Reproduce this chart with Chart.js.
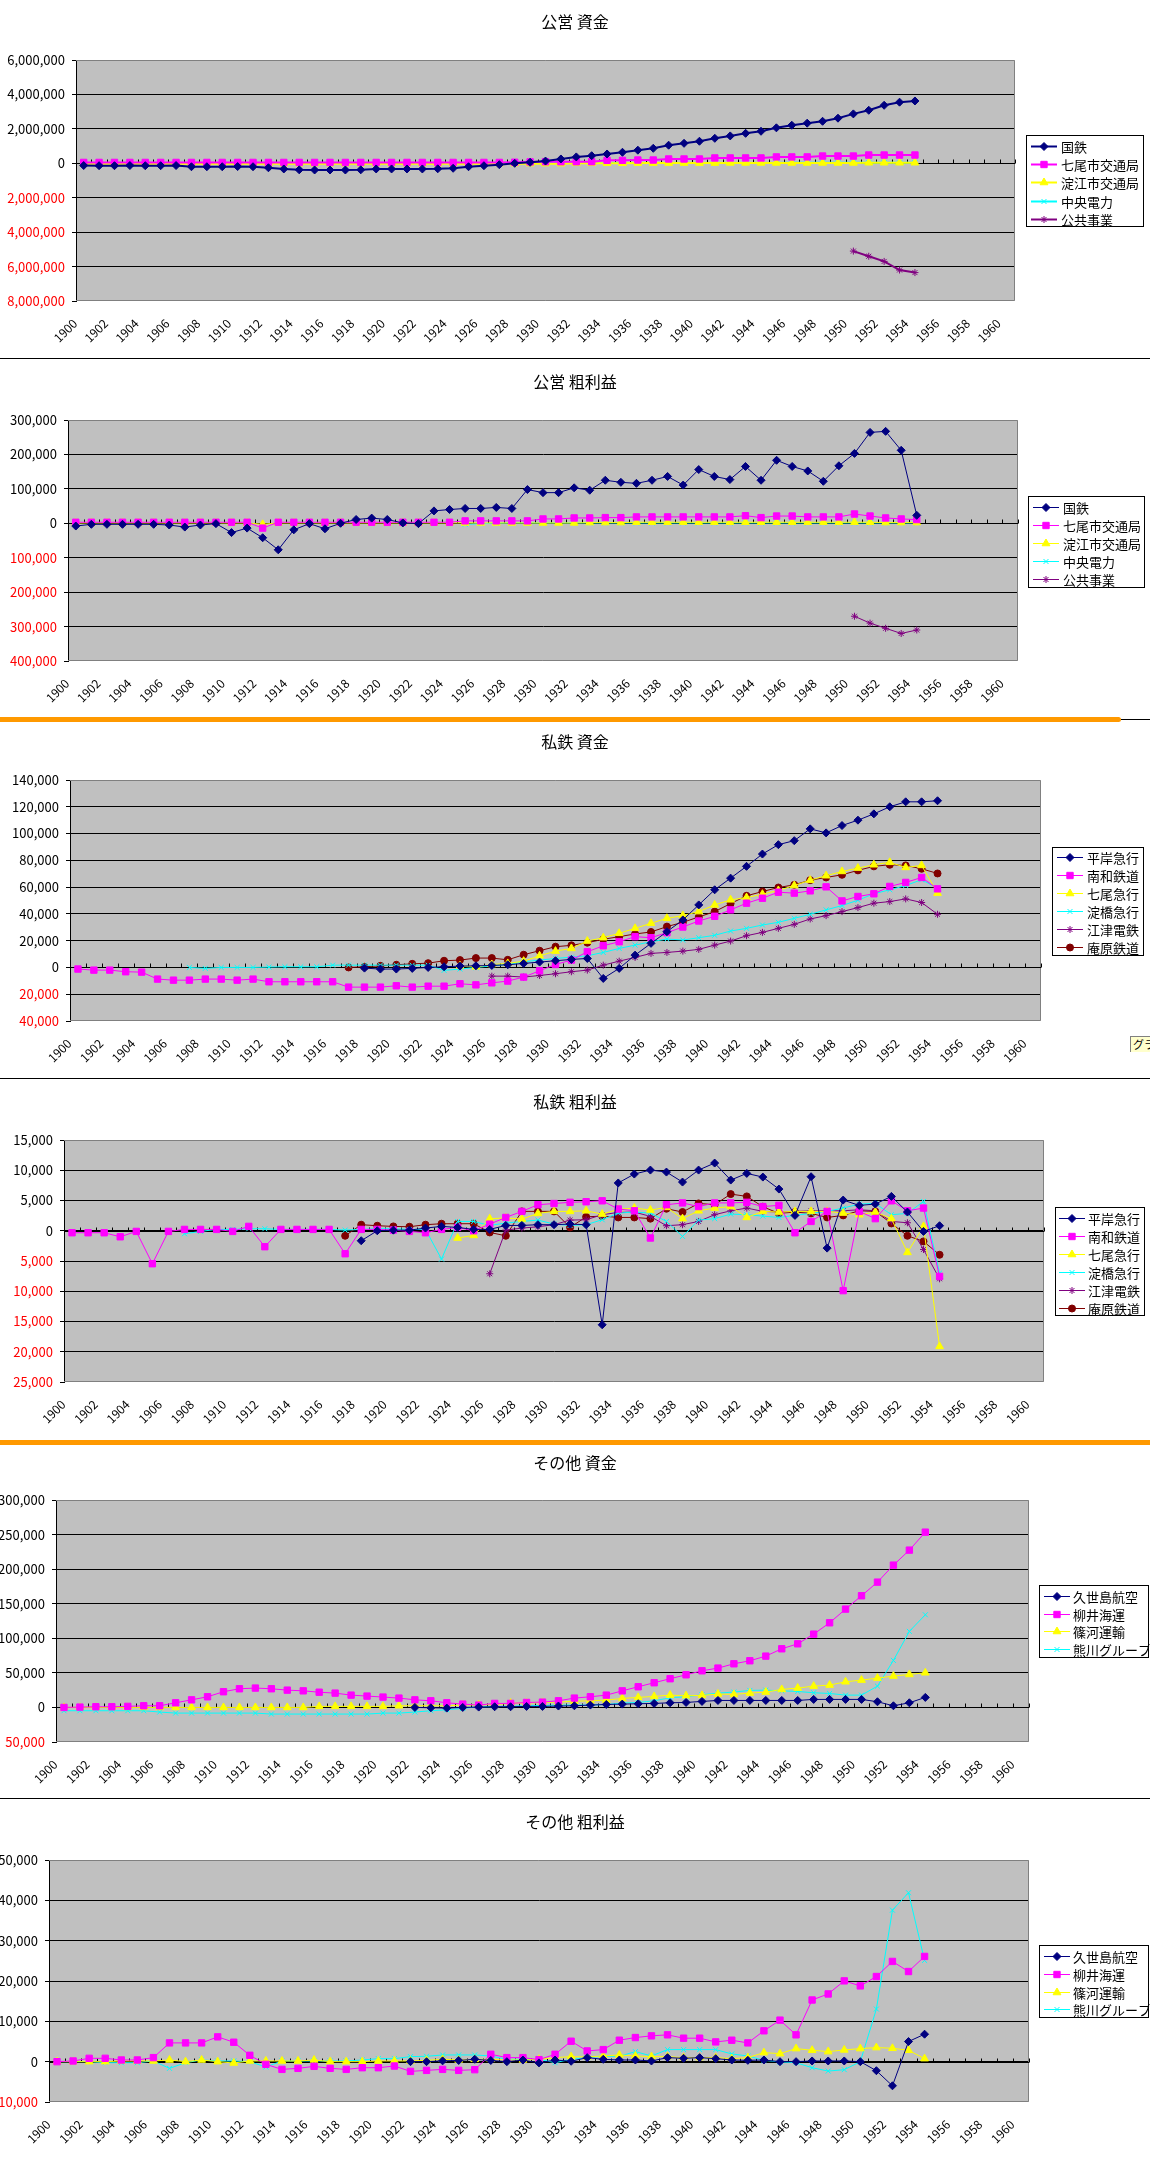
<!DOCTYPE html>
<html lang="ja">
<head>
<meta charset="utf-8">
<title>公営・私鉄・その他 資金と粗利益</title>
<script src="https://cdn.jsdelivr.net/npm/chart.js@4.4.1/dist/chart.umd.min.js"></script>
<style>
  html, body { margin: 0; padding: 0; background: #fff; }
  #page { position: relative; width: 1150px; height: 2160px; overflow: hidden; }
  #page canvas { position: absolute; left: 0; }
  .rule { position: absolute; left: 0; }
  .tag {
    position: absolute; left: 1130px; top: 1036px; width: 22px; height: 15px;
    background: #ffffcc; border-left: 1px solid #808080; border-top: 1px solid #808080;
    font: 11px "Noto Sans CJK JP", sans-serif; line-height: 15px; padding-left: 2px;
    white-space: nowrap; overflow: hidden;
  }
</style>
</head>
<body>
<div id="page">
  <canvas id="c1"></canvas>
  <canvas id="c2"></canvas>
  <canvas id="c3"></canvas>
  <canvas id="c4"></canvas>
  <canvas id="c5"></canvas>
  <canvas id="c6"></canvas>
  <div class="rule" style="top:358px;width:1150px;height:1px;background:#000"></div>
  <div class="rule" style="top:717px;width:1121px;height:5px;background:#ff9900;border-radius:0 3px 3px 0"></div>
  <div class="rule" style="left:1121px;top:719px;width:29px;height:1px;background:#000"></div>
  <div class="rule" style="top:1078px;width:1150px;height:1px;background:#000"></div>
  <div class="rule" style="top:1440px;width:1150px;height:5px;background:#ff9900"></div>
  <div class="rule" style="top:1798px;width:1150px;height:1px;background:#000"></div>
  <div class="tag">グラフ</div>
</div>
<script>
const FONT = '"Noto Sans CJK JP", "Noto Sans", sans-serif';

// 年 (カテゴリ)
const years = Array.from({ length: 61 }, (_, i) => 1900 + i);

// ---- 公営 資金 ----
const kokutetsuShikinStart = 1900;
const kokutetsuShikin = [-130000, -140000, -140000, -130000, -140000, -140000, -130000, -200000, -200000, -200000,
  -190000, -200000, -260000, -330000, -380000, -390000, -390000, -390000, -380000, -330000,
  -330000, -330000, -330000, -320000, -290000, -200000, -140000, -80000, 0, 60000, 130000, 250000,
  370000, 440000, 540000, 640000, 760000, 870000, 1050000, 1160000, 1280000, 1450000, 1590000, 1740000,
  1860000, 2060000, 2210000, 2330000, 2440000, 2620000, 2870000, 3080000, 3370000, 3550000, 3620000];
const nanaoKotsuShikinStart = 1900;
const nanaoKotsuShikin = [50000, 50000, 50000, 50000, 50000, 50000, 50000, 50000, 50000, 50000,
  50000, 50000, 50000, 50000, 50000, 50000, 50000, 50000, 50000, 50000,
  50000, 50000, 50000, 50000, 50000, 50000, 50000, 50000, 60000, 80000, 90000, 90000,
  90000, 90000, 170000, 170000, 190000, 190000, 250000, 250000, 250000, 310000, 310000, 310000,
  310000, 370000, 370000, 370000, 420000, 420000, 420000, 480000, 480000, 480000, 480000];
const yodoeKotsuShikinStart = 1900;
const yodoeKotsuShikin = [-20000, -20000, -20000, -20000, -20000, -20000, -20000, -20000, -20000, -20000,
  -20000, -20000, -20000, -20000, -20000, -20000, -20000, -20000, -20000, -20000,
  -20000, -20000, -20000, -20000, -20000, -20000, -20000, -20000, -20000, -20000, -20000, -20000,
  0, 0, 0, 0, 10000, 10000, 10000, 10000, 10000, 10000, 20000, 20000,
  20000, 20000, 20000, 20000, 20000, 20000, 20000, 30000, 30000, 30000, 30000];
const chuoDenryokuShikinStart = 1925;
const chuoDenryokuShikin = [0, 10000, 10000, 10000, 20000, 20000, 20000,
  20000, 20000, 20000, 20000, 20000, 20000, 20000, 20000, 20000, 20000, 20000, 20000,
  20000, 20000, 30000, 30000, 30000, 30000, 30000, 30000, 30000, 30000, 30000];
const kokyoJigyoShikinStart = 1950;
const kokyoJigyoShikin = [-5100000, -5400000, -5700000, -6200000, -6350000];

// ---- 公営 粗利益 ----
const kokutetsuRiekiStart = 1900;
const kokutetsuRieki = [-8000, -3000, -3000, -3000, -3000, -3000, -5000, -11000, -5000, -1000,
  -27000, -14000, -42000, -77000, -19000, -1000, -16000, 0, 11000, 15000,
  11000, 1000, -1000, 36000, 40000, 43000, 43000, 46000, 43000, 98000, 89000, 89000,
  103000, 96000, 125000, 119000, 116000, 125000, 136000, 111000, 156000, 136000, 127000, 165000,
  125000, 183000, 165000, 152000, 122000, 167000, 203000, 264000, 267000, 212000, 23000];
const nanaoKotsuRiekiStart = 1900;
const nanaoKotsuRieki = [3000, 3000, 3000, 3000, 3000, 3000, 3000, 3000, 3000, 3000,
  3000, 3000, -14000, 3000, 3000, 3000, 3000, 3000, 3000, 3000,
  3000, 3000, 3000, 3000, 3000, 7000, 7000, 7000, 7000, 7000, 12600, 12600,
  15500, 15500, 16500, 16500, 18500, 18500, 18500, 18500, 18500, 18500, 18500, 22000,
  16500, 21000, 21000, 18500, 18500, 18500, 27000, 21000, 15500, 12600, 10700];
const yodoeKotsuRiekiStart = 1900;
const yodoeKotsuRieki = [1000, 1000, 1000, 1000, 1000, 1000, 1000, 1000, 1000, 1000,
  1000, 1000, -3000, 1000, 1000, 1000, 1000, 1000, 1000, 1000,
  1000, 1000, 1000, 1000, 1000, 1000, 1000, 1000, 1000, 1000, 1000, 1000, 1000,
  2000, 2000, 2000, 3000, 3000, 3000, 3000, 3000, 3000, 3000, 3000,
  3000, 3000, 3000, 3000, 3000, 3000, 3000, 3000, 2000, 2000, 2000];
const chuoDenryokuRiekiStart = 1925;
const chuoDenryokuRieki = [-3000, -1000, 0, 1000, 1000, 1000, 1000,
  1000, 1000, 1000, 1000, 1000, 1000, 1000, 1000, 1000, 1000, 1000, 1000,
  1000, 1000, 1000, 1000, 1000, 1000, 1000, 1000, 1000, 1000, 1000];
const kokyoJigyoRiekiStart = 1950;
const kokyoJigyoRieki = [-270000, -290000, -305000, -320000, -310000];

// ---- 私鉄 資金 ----
const hiragishiShikinStart = 1918;
const hiragishiShikin = [-500, -1200, -1200, -700, 0, 500, 1000, 1200, 1500, 2000, 3000, 4000, 5000, 6000,
  6700, -8200, -700, 9200, 18000, 26700, 35500, 46700, 58000, 66700, 75500, 84700,
  91700, 94700, 103500, 100500, 106000, 110000, 114700, 120000, 123700, 123700, 124500];
const nanwaShikinStart = 1900;
const nanwaShikin = [-1200, -2000, -2000, -3200, -3500, -8700, -9500, -9500, -8700, -8700,
  -9500, -8700, -10700, -10700, -10700, -10700, -10700, -14700, -14700, -14700,
  -13700, -14700, -14000, -14000, -12200, -13000, -11500, -10200, -7200, -2500, 2200, 5500,
  11700, 16200, 19200, 23000, 22200, 26000, 30200, 34700, 38200, 43000, 48000, 51700,
  56200, 55500, 57200, 60200, 49700, 53000, 55000, 60500, 63500, 67200, 58700];
const nanaoKyukoShikinStart = 1924;
const nanaoKyukoShikin = [1200, 500, 2200, 3000, 4700, 8700, 12200, 14200,
  19700, 22200, 25500, 29200, 33000, 36700, 38700, 41700, 46700, 50500, 52200, 54700,
  57500, 61200, 65200, 68500, 71700, 74200, 76700, 78500, 74700, 76200, 55500];
const yodobashiShikinStart = 1907;
const yodobashiShikin = [0, -700, 0, 0, 0, 300, 500, 500, 500, 1700, 1700, 1700, 1700,
  1700, 1700, 1700, -2200, -1200, 0, 1200, 2200, 4200, 5500, 6700, 7700,
  8700, 11200, 14200, 16700, 19200, 21200, 20500, 22200, 24000, 27200, 29200, 31700,
  33700, 36700, 39700, 43000, 46200, 50200, 55000, 58000, 61200, 65500, 59200];
const gotsuShikinStart = 1926;
const gotsuShikin = [-6500, -6500, -7200, -6000, -4700, -3200,
  -2000, 1700, 4700, 7500, 10500, 11200, 12200, 13500, 16700, 19700, 23700, 26200,
  29200, 32200, 36200, 38700, 41700, 44700, 48000, 49200, 51200, 48500, 39700];
const ioharaShikinStart = 1917;
const ioharaShikin = [0, 500, 1200, 2000, 2700, 3200, 5000, 5500, 7000, 7000, 5700, 9500, 12500, 15500, 16500,
  18500, 21000, 23000, 25000, 26500, 30500, 33700, 37700, 41700, 47700, 53500, 56700,
  59700, 61700, 65200, 67200, 69200, 72500, 75500, 76700, 76200, 73700, 70200];

// ---- 私鉄 粗利益 ----
const hiragishiRiekiStart = 1918;
const hiragishiRieki = [-1650, 0, 100, 100, 440, 720, 550, 220, 220, 880, 880, 1000, 1000, 1100,
  1000, -15540, 7900, 9370, 10030, 9700, 8050, 10030, 11190, 8380, 9480, 8870,
  6890, 2540, 8930, -2870, 5070, 4190, 4410, 5680, 3090, -110, 830];
const nanwaRiekiStart = 1900;
const nanwaRieki = [-330, -330, -330, -1000, -110, -5450, -110, 220, 220, 220,
  -110, 720, -2640, 220, 220, 220, 220, -3800, 220, 220,
  110, -110, -330, 220, 550, 0, 1100, 2200, 3200, 4300, 4500, 4700,
  4800, 4950, 3600, 3300, -1200, 4300, 4600, 4000, 4600, 4600, 4700, 4000,
  4200, -330, 1540, 3200, -9900, 3200, 2000, 4950, 3300, 3750, -7550];
const nanaoKyukoRiekiStart = 1924;
const nanaoKyukoRieki = [-1200, -770, 2000, 2100, 1930, 2870, 3200, 3200,
  3300, 2750, 3530, 3750, 3420, 3860, 2000, 3300, 3750, 4000, 2200, 3200,
  3090, 3200, 3200, 3200, 2920, 2650, 3090, 2000, -3580, 720, -19120];
const yodobashiRiekiStart = 1907;
const yodobashiRieki = [-500, -110, 220, 220, 330, 330, 220, 220, 220, 220, 110, 220, 330,
  330, 220, 220, -4680, 1540, 1540, 880, 1270, 1540, 1760, 1100, 880,
  1000, 1820, 2920, 3090, 2920, 1540, -940, 1760, 2000, 2750, 2650, 2420,
  2200, 2540, 2870, 3200, 3750, 4410, 4520, 2650, 2870, 4850, -7000];
const gotsuRiekiStart = 1926;
const gotsuRieki = [-7110, 110, 440, 660, 1000, 1760,
  1820, 2650, 3030, 3090, 2370, 830, 1000, 1540, 2650, 3300, 3750, 3200,
  3090, 3200, 3300, 3300, 3300, 3470, 3300, 1540, 1320, -3090, -7940];
const ioharaRiekiStart = 1917;
const ioharaRieki = [-830, 1000, 830, 720, 660, 1000, 1160, 1160, 1160, -280, -830, 3200, 3200, 3200, 550,
  2300, 2420, 2200, 2200, 2000, 3640, 3090, 4520, 4300, 6060, 5680, 3970,
  2870, 3090, 2870, 2200, 2540, 3300, 3200, 1210, -830, -1760, -3970];

// ---- その他 資金 ----
const kuseshimaShikinStart = 1922;
const kuseshimaShikin = [0, -500, -1000, 0, 500, 1000, 1000, 1500, 1500, 2000, 2400,
  3400, 4300, 4800, 5300, 5800, 6700, 7200, 8700, 10100, 10100, 10100,
  10100, 10100, 10100, 11600, 11600, 11600, 11600, 8200, 2400, 6700, 14500];
const yanaiShikinStart = 1900;
const yanaiShikin = [0, 500, 1000, 1000, 1500, 2400, 2400, 6700, 11000, 15400,
  22700, 27000, 28000, 27000, 25000, 24000, 22000, 20700, 17800, 16400,
  15000, 13500, 11000, 9600, 6700, 4800, 3400, 5800, 5800, 7200, 7700, 9600, 13500,
  15400, 17800, 24000, 29900, 35700, 41500, 47200, 53000, 56900, 63100, 67500,
  74200, 84800, 92000, 106000, 122400, 142200, 161500, 181200, 205800, 227500, 253500];
const shinokawaShikinStart = 1900;
const shinokawaShikin = [0, 0, 0, 0, 0, 0, 0, 0, 0, 0,
  0, 0, 0, 0, 0, 0, 1500, 1500, 1500, 1500,
  1500, 2400, 2400, 2400, 2400, 3400, 3900, 3900, 6300, 6300, 7200, 7700, 9000,
  9600, 10600, 13000, 14500, 15900, 17800, 16900, 17400, 19300, 18800, 20700,
  22200, 26000, 28000, 30800, 32300, 37100, 39500, 42400, 45300, 47700, 50100];
const kumakawaShikinStart = 1900;
const kumakawaShikin = [-4800, -4800, -4800, -4800, -4800, -4800, -6700, -8200, -8200, -8200,
  -8200, -8200, -8200, -9600, -9600, -9600, -9600, -9600, -9600, -9600,
  -8200, -8200, -6700, -4800, -3400, -1400, 1000, 1000, 1900, 2400, 2900, 3400, 3400,
  3400, 4300, 6300, 7200, 9600, 14000, 15400, 18300, 20700, 22200, 24600,
  25000, 24000, 23100, 21200, 20200, 17800, 17800, 30800, 68000, 110000, 134000];

// ---- その他 粗利益 ----
const kuseshimaRiekiStart = 1922;
const kuseshimaRieki = [0, 0, 200, 300, 600, 300, 0, 400, -300, 400, 100,
  1000, 580, 415, 415, 170, 1000, 830, 1000, 750, 415, 330,
  415, 0, 0, 170, 170, 170, 0, -2240, -5980, 4990, 6810];
const yanaiRiekiStart = 1900;
const yanaiRieki = [0, 170, 830, 830, 415, 415, 1000, 4650, 4650, 4650,
  6150, 4820, 1580, -660, -1910, -1660, -1160, -1660, -1910, -1500,
  -1500, -1080, -2410, -2160, -1910, -2160, -1990, 1830, 1000, 1000, 500, 1830, 5070,
  2660, 2990, 5320, 5980, 6400, 6650, 5820, 5820, 4900, 5320, 4650,
  7650, 10300, 6650, 15290, 16790, 20030, 18780, 21110, 24850, 22350, 26090];
const shinokawaRiekiStart = 1900;
const shinokawaRieki = [0, 0, 0, 0, 170, 170, 170, 415, 0, 415,
  0, -330, 170, 170, 170, 170, 415, 0, 0, 0,
  170, 170, 170, 330, 580, 415, 580, 580, 415, 415, 580, 1000, 1250,
  1160, 1410, 1660, 1410, 1250, 1250, 1000, 1000, 1000, 750, 1000,
  2240, 1990, 3240, 2830, 2490, 2910, 3240, 3490, 3320, 2830, 750];
const kumakawaRiekiStart = 1900;
const kumakawaRieki = [0, 0, 0, -250, -250, -250, 170, -1660, -250, 415,
  170, 170, 0, -1330, 170, 170, 170, 170, 170, 415,
  750, 750, 1250, 1330, 1660, 1660, 1660, 1410, 580, 580, 580, -250, 580,
  1000, 1330, 1330, 2490, 1410, 2990, 2990, 2990, 2990, 1910, 1410,
  330, -80, -250, -1500, -2330, -1990, 0, 13050, 37560, 41880, 25100];

// 系列の色とマーカー (Excel の既定順)
const markers = [
  { color: '#000080', style: 'rectRot', radius: 4 },
  { color: '#ff00ff', style: 'rect', radius: 4.5 },
  { color: '#ffff00', style: 'triangle', radius: 4.5 },
  { color: '#00ffff', style: 'crossRot', radius: 3.5 },
  { color: '#800080', style: 'star', radius: 3.5 },
  { color: '#800000', style: 'circle', radius: 3.5 }
];

function onYears(start, values) {
  return years.map(y => {
    const i = y - start;
    return i >= 0 && i < values.length ? values[i] : null;
  });
}

function makeDataset(label, slot, start, values, lineWidth) {
  const m = markers[slot];
  return {
    label: label,
    data: onYears(start, values),
    borderColor: m.color,
    backgroundColor: m.color,
    pointBackgroundColor: m.color,
    pointBorderColor: m.color,
    pointStyle: m.style,
    pointRadius: m.radius,
    pointBorderWidth: 1,
    borderWidth: lineWidth,
    tension: 0
  };
}

// 背景・枠・0軸・年ラベル・タイトル・凡例
const sheetLook = {
  id: 'sheetLook',
  beforeDraw(chart) {
    const { ctx, chartArea: a } = chart;
    ctx.save();
    ctx.fillStyle = '#c0c0c0';
    ctx.fillRect(a.left, a.top, a.right - a.left, a.bottom - a.top);
    ctx.restore();
  },
  beforeDatasetsDraw(chart) {
    const { ctx, chartArea: a } = chart;
    const x = chart.scales.x, y = chart.scales.y;
    ctx.save();
    ctx.lineWidth = 1;
    ctx.strokeStyle = '#808080';
    ctx.beginPath();
    ctx.moveTo(a.left, a.top + 0.5);
    ctx.lineTo(a.right - 0.5, a.top + 0.5);
    ctx.lineTo(a.right - 0.5, a.bottom - 0.5);
    ctx.lineTo(a.left, a.bottom - 0.5);
    ctx.stroke();

    const zy = Math.round(y.getPixelForValue(0)) + 0.5;
    const step = x.getPixelForValue(1) - x.getPixelForValue(0);
    ctx.strokeStyle = '#000';
    ctx.beginPath();
    ctx.moveTo(a.left, zy);
    ctx.lineTo(a.right, zy);
    for (let i = 0; i <= years.length; i++) {
      const px = Math.round(x.getPixelForValue(0) + (i - 0.5) * step) + 0.5;
      ctx.moveTo(px, zy);
      ctx.lineTo(px, zy - 4);
    }
    ctx.stroke();
    ctx.restore();
  },
  afterDraw(chart, args, opts) {
    const ctx = chart.ctx;
    const a = chart.chartArea;
    const x = chart.scales.x;
    const off = opts.top;
    ctx.save();

    // 45度に傾けた年ラベル (2年おき)
    ctx.fillStyle = '#000';
    ctx.font = '12px ' + FONT;
    ctx.textAlign = 'right';
    ctx.textBaseline = 'top';
    years.forEach((yr, i) => {
      if (i % 2 !== 0) return;
      ctx.save();
      ctx.translate(x.getPixelForValue(i) - 13, a.bottom + 16);
      ctx.rotate(-Math.PI / 4);
      ctx.fillText(String(yr), 0, 0);
      ctx.restore();
    });

    ctx.font = '16px ' + FONT;
    ctx.textAlign = 'center';
    ctx.textBaseline = 'middle';
    ctx.fillText(opts.title, 575, opts.titleY - off);

    const lg = opts.legend;
    ctx.fillStyle = '#fff';
    ctx.fillRect(lg.x, lg.y - off, lg.w, lg.h);
    ctx.strokeStyle = '#000';
    ctx.lineWidth = 1;
    ctx.strokeRect(lg.x + 0.5, lg.y - off + 0.5, lg.w, lg.h);

    ctx.font = '13px ' + FONT;
    ctx.textAlign = 'left';
    chart.data.datasets.forEach((ds, i) => {
      const ry = Math.round(lg.row0 + i * lg.gap - off) + 0.5;
      ctx.strokeStyle = ds.borderColor;
      ctx.lineWidth = ds.borderWidth;
      ctx.beginPath();
      ctx.moveTo(lg.x1, ry);
      ctx.lineTo(lg.x2, ry);
      ctx.stroke();
      ctx.fillStyle = ds.pointBackgroundColor;
      ctx.lineWidth = 1;
      Chart.helpers.drawPoint(ctx, {
        pointStyle: ds.pointStyle, radius: ds.pointRadius, borderWidth: 1, rotation: 0
      }, (lg.x1 + lg.x2) / 2, ry);
      ctx.fillStyle = '#000';
      ctx.textBaseline = 'middle';
      ctx.fillText(ds.label, lg.tx, ry + 1);
    });
    ctx.restore();
  }
};

const charts = [
  {
    id: 'c1', top: 0, height: 358, plot: [76, 60, 1015, 301],
    title: '公営 資金', titleY: 22, yMin: -8000000, yMax: 6000000, yStep: 2000000,
    legend: { x: 1026, y: 135, w: 117, h: 91, row0: 146, gap: 18.2, x1: 1031, x2: 1057, tx: 1061 },
    datasets: [
      makeDataset('国鉄', 0, kokutetsuShikinStart, kokutetsuShikin, 2),
      makeDataset('七尾市交通局', 1, nanaoKotsuShikinStart, nanaoKotsuShikin, 2),
      makeDataset('淀江市交通局', 2, yodoeKotsuShikinStart, yodoeKotsuShikin, 2),
      makeDataset('中央電力', 3, chuoDenryokuShikinStart, chuoDenryokuShikin, 2),
      makeDataset('公共事業', 4, kokyoJigyoShikinStart, kokyoJigyoShikin, 2)
    ]
  },
  {
    id: 'c2', top: 359, height: 358, plot: [68, 420, 1018, 661],
    title: '公営 粗利益', titleY: 382, yMin: -400000, yMax: 300000, yStep: 100000,
    legend: { x: 1028, y: 496, w: 116, h: 91, row0: 506.7, gap: 18, x1: 1033, x2: 1059, tx: 1063 },
    datasets: [
      makeDataset('国鉄', 0, kokutetsuRiekiStart, kokutetsuRieki, 1),
      makeDataset('七尾市交通局', 1, nanaoKotsuRiekiStart, nanaoKotsuRieki, 1),
      makeDataset('淀江市交通局', 2, yodoeKotsuRiekiStart, yodoeKotsuRieki, 1),
      makeDataset('中央電力', 3, chuoDenryokuRiekiStart, chuoDenryokuRieki, 1),
      makeDataset('公共事業', 4, kokyoJigyoRiekiStart, kokyoJigyoRieki, 1)
    ]
  },
  {
    id: 'c3', top: 723, height: 355, plot: [70, 780, 1041, 1021],
    title: '私鉄 資金', titleY: 742, yMin: -40000, yMax: 140000, yStep: 20000,
    legend: { x: 1052, y: 847, w: 91, h: 108, row0: 856.7, gap: 18, x1: 1057, x2: 1083, tx: 1087 },
    datasets: [
      makeDataset('平岸急行', 0, hiragishiShikinStart, hiragishiShikin, 1),
      makeDataset('南和鉄道', 1, nanwaShikinStart, nanwaShikin, 1),
      makeDataset('七尾急行', 2, nanaoKyukoShikinStart, nanaoKyukoShikin, 1),
      makeDataset('淀橋急行', 3, yodobashiShikinStart, yodobashiShikin, 1),
      makeDataset('江津電鉄', 4, gotsuShikinStart, gotsuShikin, 1),
      makeDataset('庵原鉄道', 5, ioharaShikinStart, ioharaShikin, 1)
    ]
  },
  {
    id: 'c4', top: 1079, height: 361, plot: [64, 1140, 1044, 1382],
    title: '私鉄 粗利益', titleY: 1102, yMin: -25000, yMax: 15000, yStep: 5000,
    legend: { x: 1055, y: 1207, w: 89, h: 108, row0: 1218.3, gap: 17.9, x1: 1059, x2: 1085, tx: 1088 },
    datasets: [
      makeDataset('平岸急行', 0, hiragishiRiekiStart, hiragishiRieki, 1),
      makeDataset('南和鉄道', 1, nanwaRiekiStart, nanwaRieki, 1),
      makeDataset('七尾急行', 2, nanaoKyukoRiekiStart, nanaoKyukoRieki, 1),
      makeDataset('淀橋急行', 3, yodobashiRiekiStart, yodobashiRieki, 1),
      makeDataset('江津電鉄', 4, gotsuRiekiStart, gotsuRieki, 1),
      makeDataset('庵原鉄道', 5, ioharaRiekiStart, ioharaRieki, 1)
    ]
  },
  {
    id: 'c5', top: 1445, height: 353, plot: [56, 1500, 1029, 1742],
    title: 'その他 資金', titleY: 1463, yMin: -50000, yMax: 300000, yStep: 50000,
    legend: { x: 1039, y: 1585, w: 109, h: 72, row0: 1595.7, gap: 17.8, x1: 1044, x2: 1070, tx: 1073 },
    datasets: [
      makeDataset('久世島航空', 0, kuseshimaShikinStart, kuseshimaShikin, 1),
      makeDataset('柳井海運', 1, yanaiShikinStart, yanaiShikin, 1),
      makeDataset('篠河運輸', 2, shinokawaShikinStart, shinokawaShikin, 1),
      makeDataset('熊川グループ', 3, kumakawaShikinStart, kumakawaShikin, 1)
    ]
  },
  {
    id: 'c6', top: 1799, height: 361, plot: [49, 1860, 1029, 2102],
    title: 'その他 粗利益', titleY: 1822, yMin: -10000, yMax: 50000, yStep: 10000,
    legend: { x: 1039, y: 1945, w: 109, h: 72, row0: 1955.7, gap: 17.9, x1: 1044, x2: 1070, tx: 1073 },
    datasets: [
      makeDataset('久世島航空', 0, kuseshimaRiekiStart, kuseshimaRieki, 1),
      makeDataset('柳井海運', 1, yanaiRiekiStart, yanaiRieki, 1),
      makeDataset('篠河運輸', 2, shinokawaRiekiStart, shinokawaRieki, 1),
      makeDataset('熊川グループ', 3, kumakawaRiekiStart, kumakawaRieki, 1)
    ]
  }
];

function renderChart(cfg) {
  const canvas = document.getElementById(cfg.id);
  canvas.width = 1150;
  canvas.height = cfg.height;
  canvas.style.top = cfg.top + 'px';
  canvas.style.width = '1150px';
  canvas.style.height = cfg.height + 'px';

  const [left, top, right, bottom] = cfg.plot;
  const axisSpace = cfg.top + cfg.height - bottom;

  return new Chart(canvas.getContext('2d'), {
    type: 'line',
    data: { labels: years.map(String), datasets: cfg.datasets },
    options: {
      responsive: false,
      animation: false,
      devicePixelRatio: 1,
      layout: { padding: { left: 0, top: top - cfg.top, right: 1150 - right, bottom: 0 } },
      plugins: {
        legend: { display: false },
        title: { display: false },
        tooltip: { enabled: false },
        sheetLook: { title: cfg.title, titleY: cfg.titleY, top: cfg.top, legend: cfg.legend }
      },
      scales: {
        x: {
          type: 'category',
          offset: true,
          grid: { display: false, drawTicks: false },
          border: { display: false },
          ticks: { display: false },
          afterFit: s => { s.height = axisSpace; }
        },
        y: {
          min: cfg.yMin, max: cfg.yMax,
          ticks: {
            stepSize: cfg.yStep, padding: 7,
            font: { family: FONT, size: 13 },
            color: c => (c.tick.value < 0 ? '#ff0000' : '#000000'),
            callback: v => Math.abs(v).toLocaleString('en-US')
          },
          grid: {
            color: c => (c.tick.value === cfg.yMin || c.tick.value === cfg.yMax ? 'rgba(0,0,0,0)' : '#000000'),
            tickColor: '#000', tickLength: 4, lineWidth: 1
          },
          border: { color: '#000', width: 1 },
          afterFit: s => { s.width = left; }
        }
      }
    },
    plugins: [sheetLook]
  });
}

charts.forEach(renderChart);
</script>
</body>
</html>
